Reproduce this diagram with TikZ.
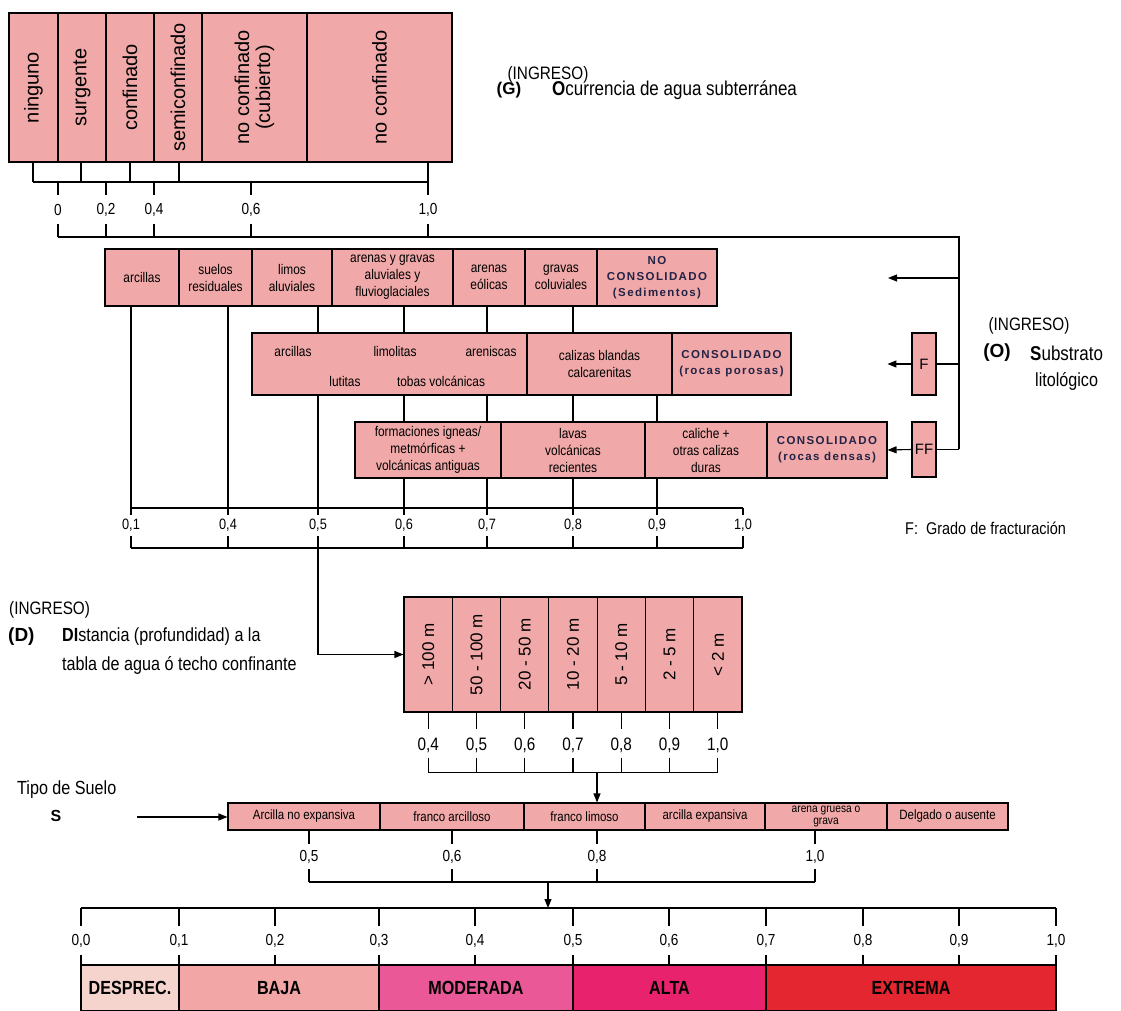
\documentclass[tikz,border=0pt]{standalone}
\usepackage{fontspec}
\setmainfont{Liberation Sans}
\newfontfamily\cond[FakeStretch=0.85]{Liberation Sans}
\newfontfamily\spaced[LetterSpace=12]{Liberation Sans}
\usetikzlibrary{arrows.meta,calc}
\definecolor{cellpink}{RGB}{240,168,168}
\definecolor{cdesp}{RGB}{246,212,206}
\definecolor{cbaja}{RGB}{242,166,166}
\definecolor{cmod}{RGB}{234,88,152}
\definecolor{calta}{RGB}{232,34,108}
\definecolor{cext}{RGB}{228,38,48}
\definecolor{navy}{RGB}{35,35,70}
\newcommand\fsz[2]{\fontsize{#1}{#2}\selectfont}
\tikzset{
  cellbox/.style={draw, fill=cellpink, line width=1.1pt, inner sep=0pt, align=center},
  conn/.style={line width=1.1pt},
  arr/.style={line width=1.1pt, -{Triangle[length=9pt,width=7pt]}},
  lbl/.style={inner sep=0pt},
  gtxt/.style={font=\fsz{20}{21}},
  dtxt/.style={font=\fsz{17}{18}},
  sedtxt/.style={font=\cond\fsz{14}{17}},
  constxt/.style={font=\spaced\bfseries\fsz{11.5}{16}, text=navy},
  soiltxt/.style={font=\cond\fsz{13.5}{13}},
  sclbl/.style={lbl, font=\cond\fsz{15}{15}},
  sclbig/.style={lbl, font=\cond\fsz{16}{16}},
  bartxt/.style={font=\cond\bfseries\fsz{19}{19}},
  notetxt/.style={lbl, anchor=west, font=\fsz{15}{17}},
}
% horizontal cell: name, x1, y1, x2, y2, style, text
\newcommand\cell[7]{\node[cellbox,#6,minimum width={#4pt-#2pt},minimum height={#5pt-#3pt}] (#1) at ({(#2+#4)/2},{(#3+#5)/2}) {#7};}
% vertical-text cell (rotated: west = bottom side, north = left side)
\newcommand\vcell[7]{\node[cellbox,#6,rotate=90,minimum width={#5pt-#3pt},minimum height={#4pt-#2pt}] (#1) at ({(#2+#4)/2},{(#3+#5)/2}) {#7};}
\begin{document}
\begin{tikzpicture}[x=1pt,y=-1pt]
\useasboundingbox (0,0) rectangle (1121,1011);

% ===== G : ocurrencia de agua subterranea =====
\vcell{g1}{9}{13}{58}{162}{gtxt}{ninguno}
\vcell{g2}{58}{13}{106}{162}{gtxt}{surgente}
\vcell{g3}{106}{13}{154}{162}{gtxt}{confinado}
\vcell{g4}{154}{13}{202}{162}{gtxt}{semiconfinado}
\vcell{g5}{202}{13}{307}{162}{gtxt}{no confinado\\(cubierto)}
\vcell{g6}{307}{13}{452}{162}{gtxt}{no confinado}

\coordinate (gb1) at (33,182);
\coordinate (gb2) at (81,182);
\coordinate (gb3) at (130,182);
\coordinate (gb4) at (179,182);
\coordinate (gb6) at (428,182);
\draw[conn] (gb1 |- g1.west) -- (gb1);
\draw[conn] (gb2 |- g2.west) -- (gb2);
\draw[conn] (gb3 |- g3.west) -- (gb3);
\draw[conn] (gb4 |- g4.west) -- (gb4);
\draw[conn] (gb6 |- g6.west) -- (gb6);
\draw[conn] (gb1) -- (gb6);
\foreach \x/\t [count=\i] in {58/0,106/{0,2},154/{0,4},251/{0,6},428/{1,0}}{
  \draw[conn] (\x,182) -- (\x,195);
  \node[sclbig] (gl\i) at (\x,210) {\t};
  \draw[conn] (\x,224) -- (\x,237);
}
\coordinate (gl0) at (58,237);
\coordinate (gr0) at (959,237);
\coordinate (gr1) at (959,278);
\coordinate (ar1) at (888,278);
\draw[conn] (gl0) -- (gr0) -- (gr0 |- 0,449);

\node[lbl, font=\cond\fsz{18}{18}] (ingG) at (548,75) {(INGRESO)};
\node[lbl, font=\bfseries\fsz{17}{17}] (Glet) at (509,90) {(G)};
\node[notetxt, font=\cond\fsz{20}{20}] (Gtxt) at (552,90) {\textbf{O}currencia de agua subterránea};

% ===== O : substrato litologico =====
\cell{sed1}{105}{249}{179}{306}{sedtxt}{arcillas}
\cell{sed2}{179}{249}{252}{306}{sedtxt}{suelos\\residuales}
\cell{sed3}{252}{249}{332}{306}{sedtxt}{limos\\aluviales}
\cell{sed4}{332}{249}{453}{306}{sedtxt}{arenas y gravas\\aluviales y\\fluvioglaciales}
\cell{sed5}{453}{249}{525}{306}{sedtxt}{arenas\\eólicas}
\cell{sed6}{525}{249}{597}{306}{sedtxt}{gravas\\coluviales}
\cell{sed7}{597}{249}{717}{306}{constxt}{NO\\CONSOLIDADO\\(Sedimentos)}

\cell{por1}{252}{333}{527}{395}{sedtxt}{}
\node[lbl, font=\cond\fsz{14}{14}] (p1) at (293,351) {arcillas};
\node[lbl, font=\cond\fsz{14}{14}] (p2) at (395,351) {limolitas};
\node[lbl, font=\cond\fsz{14}{14}] (p3) at (491,351) {areniscas};
\node[lbl, font=\cond\fsz{14}{14}] (p4) at (345,381) {lutitas};
\node[lbl, font=\cond\fsz{14}{14}] (p5) at (441,381) {tobas volcánicas};
\cell{por2}{527}{333}{672}{395}{sedtxt}{calizas blandas\\calcarenitas}
\cell{por3}{672}{333}{791}{395}{constxt}{CONSOLIDADO\\(rocas porosas)}

\cell{den1}{355}{422}{501}{478}{sedtxt}{formaciones igneas/\\metmórficas +\\volcánicas antiguas}
\cell{den2}{501}{422}{645}{478}{sedtxt}{lavas\\volcánicas\\recientes}
\cell{den3}{645}{422}{767}{478}{sedtxt}{caliche +\\otras calizas\\duras}
\cell{den4}{767}{422}{887}{478}{constxt}{CONSOLIDADO\\(rocas densas)}

\cell{F}{912}{333}{936}{395}{font=\fsz{15}{15}}{F}
\cell{FF}{912}{422}{936}{477}{font=\fsz{15}{15}}{FF}

\draw[arr] (gr1) -- (ar1);
\draw[conn] (gr0 |- F.east) -- (F.east);
\draw[arr] (F.west) -- ++(-24,0);
\draw[conn] (gr0 |- FF.east) -- (FF.east);
\draw[arr] (FF.west) -- (den4.east);

\node[lbl, font=\cond\fsz{18}{18}] (ingO) at (1029,326) {(INGRESO)};
\node[lbl, font=\bfseries\fsz{19}{19}] (Olet) at (997,353) {(O)};
\node[notetxt, font=\cond\fsz{20}{20}] (Otxt1) at (1030,353) {\textbf{S}ubstrato};
\node[notetxt, font=\cond\fsz{19}{19}] (Otxt2) at (1035,381) {litológico};
\node[notetxt, font=\cond\fsz{17}{17}] (Fnote) at (905,528) {F:\ \ Grado de fracturación};

% substrate scale
\foreach \x/\t [count=\i] in {131/{0,1},228/{0,4},318/{0,5},404/{0,6},487/{0,7},573/{0,8},657/{0,9},743/{1,0}}{
  \coordinate (ss\i) at (\x,508);
  \coordinate (sb\i) at (\x,548);
  \draw[conn] (\x,508) -- (\x,515);
  \node[sclbl] (sl\i) at (\x,525) {\t};
  \draw[conn] (\x,536) -- (\x,548);
}
\draw[conn] (ss1) -- (ss8);
\draw[conn] (sb1) -- (sb8);

\draw[conn] (ss1 |- sed1.south) -- (ss1);
\draw[conn] (ss2 |- sed2.south) -- (ss2);
\draw[conn] (ss3 |- sed3.south) -- (ss3 |- por1.north);
\draw[conn] (ss3 |- por1.south) -- (ss3);
\draw[conn] (ss4 |- sed4.south) -- (ss4 |- por1.north);
\draw[conn] (ss4 |- por1.south) -- (ss4 |- den1.north);
\draw[conn] (ss4 |- den1.south) -- (ss4);
\draw[conn] (ss5 |- sed5.south) -- (ss5 |- por1.north);
\draw[conn] (ss5 |- por1.south) -- (ss5 |- den1.north);
\draw[conn] (ss5 |- den1.south) -- (ss5);
\draw[conn] (ss6 |- sed6.south) -- (ss6 |- por2.north);
\draw[conn] (ss6 |- por2.south) -- (ss6 |- den2.north);
\draw[conn] (ss6 |- den2.south) -- (ss6);
\draw[conn] (ss7 |- por2.south) -- (ss7 |- den3.north);
\draw[conn] (ss7 |- den3.south) -- (ss7);

% ===== D : distancia =====
\vcell{d1}{404}{597}{452.3}{712}{dtxt}{> 100 m}
\vcell{d2}{452.3}{597}{500.6}{712}{dtxt}{50 - 100 m}
\vcell{d3}{500.6}{597}{548.9}{712}{dtxt}{20 - 50 m}
\vcell{d4}{548.9}{597}{597.1}{712}{dtxt}{10 - 20 m}
\vcell{d5}{597.1}{597}{645.4}{712}{dtxt}{5 - 10 m}
\vcell{d6}{645.4}{597}{693.7}{712}{dtxt}{2 - 5 m}
\vcell{d7}{693.7}{597}{742}{712}{dtxt}{< 2 m}

\draw[arr] (sb3) -- (sb3 |- d1.north) -- (d1.north);

\foreach \t [count=\i] in {{0,4},{0,5},{0,6},{0,7},{0,8},{0,9},{1,0}}{
  \draw[conn] (d\i.west) -- ++(0,16);
  \node[lbl, font=\cond\fsz{18}{18}] (dl\i) at ($(d\i.west)+(0,33)$) {\t};
  \draw[conn] ($(d\i.west)+(0,45)$) -- ++(0,15);
}
\coordinate (dl0) at ($(d1.west)+(0,60)$);
\coordinate (dr0) at ($(d7.west)+(0,60)$);
\draw[conn] (dl0) -- (dr0);

\node[notetxt, font=\cond\fsz{18}{18}] (ingD) at (9,610) {(INGRESO)};
\node[notetxt, font=\bfseries\fsz{19}{19}] (Dlet) at (8,637) {(D)};
\node[notetxt, font=\cond\fsz{19}{19}] (Dtxt1) at (62,637) {\textbf{DI}stancia (profundidad) a la};
\node[notetxt, font=\cond\fsz{19}{19}] (Dtxt2) at (62,665) {tabla de agua ó techo confinante};

% ===== S : tipo de suelo =====
\cell{s1}{228}{803}{380}{830}{soiltxt}{Arcilla no expansiva}
\cell{s2}{380}{803}{524}{830}{soiltxt}{franco arcilloso}
\cell{s3}{524}{803}{645}{830}{soiltxt}{franco limoso}
\cell{s4}{645}{803}{765}{830}{soiltxt}{arcilla expansiva}
\cell{s5}{765}{803}{887}{830}{font=\cond\fsz{12}{12}}{arena gruesa o\\grava}
\cell{s6}{887}{803}{1008}{830}{soiltxt}{Delgado o ausente}

\coordinate (da) at (597,772);
\draw[arr] (da) -- (da |- s3.north);

\node[notetxt, font=\cond\fsz{19}{19}] (tipo) at (17,790) {Tipo de Suelo};
\node[lbl, font=\bfseries\fsz{16}{16}] (Slet) at (56,816) {S};
\coordinate (sarr) at (137,817);
\draw[arr] (sarr) -- (sarr -| s1.west);

\foreach \x/\t [count=\i] in {309/{0,5},452/{0,6},597/{0,8},815/{1,0}}{
  \draw[conn] (\x,830) -- (\x,844);
  \node[sclbig] (sol\i) at (\x,857) {\t};
  \draw[conn] (\x,869) -- (\x,882);
  \coordinate (sd\i) at (\x,882);
}
\draw[conn] (sd1) -- (sd4);
\coordinate (sa) at (548,882);
\coordinate (va) at (548,908);
\draw[arr] (sa) -- (va);

% ===== final scale =====
\foreach \x/\t [count=\i] in {81/{0,0},179/{0,1},275/{0,2},379/{0,3},475/{0,4},573/{0,5},669/{0,6},766/{0,7},863/{0,8},959/{0,9},1056/{1,0}}{
  \coordinate (vt\i) at (\x,908);
  \draw[conn] (\x,908) -- (\x,926);
  \node[sclbig] (vl\i) at (\x,941) {\t};
  \draw[conn] (\x,955) -- (\x,965);
}
\draw[conn] (vt1) -- (vt11);

\node[draw, line width=1.1pt, fill=cdesp, bartxt, minimum width=98pt, minimum height=46pt, inner sep=0pt] (b1) at (130,988) {DESPREC.};
\node[draw, line width=1.1pt, fill=cbaja, bartxt, minimum width=200pt, minimum height=46pt, inner sep=0pt] (b2) at (279,988) {BAJA};
\node[draw, line width=1.1pt, fill=cmod, bartxt, minimum width=194pt, minimum height=46pt, inner sep=0pt] (b3) at (476,988) {MODERADA};
\node[draw, line width=1.1pt, fill=calta, bartxt, minimum width=193pt, minimum height=46pt, inner sep=0pt] (b4) at (669.5,988) {ALTA};
\node[draw, line width=1.1pt, fill=cext, bartxt, minimum width=290pt, minimum height=46pt, inner sep=0pt] (b5) at (911,988) {EXTREMA};
\end{tikzpicture}
\end{document}
